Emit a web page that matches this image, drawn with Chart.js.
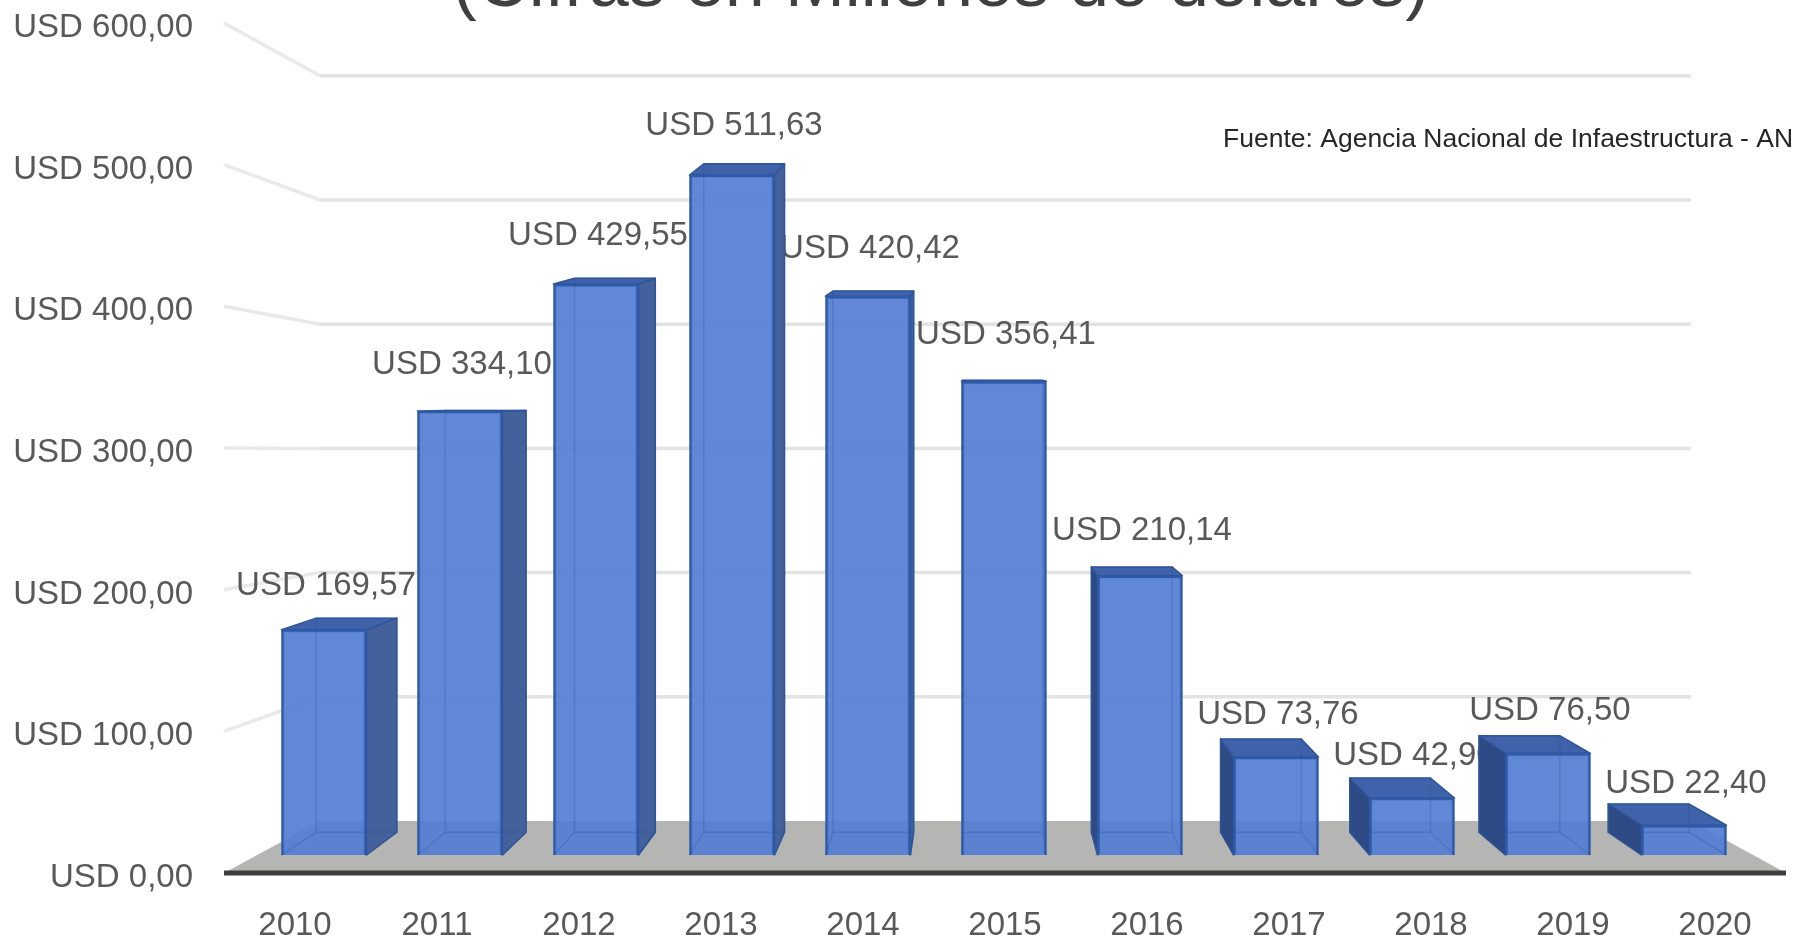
<!DOCTYPE html>
<html>
<head>
<meta charset="utf-8">
<title>Cifras en Millones de dólares</title>
<script src="https://cdn.jsdelivr.net/npm/chart.js@4"></script>
<style>
  html, body { margin: 0; padding: 0; background: #fff; overflow: hidden; }
  canvas { display: block; filter: blur(0.6px); }
</style>
</head>
<body>
<canvas id="chart" width="1793" height="935"></canvas>
<script>
const years = ['2010', '2011', '2012', '2013', '2014', '2015', '2016', '2017', '2018', '2019', '2020'];
const investment = [169.57, 334.10, 429.55, 511.63, 420.42, 356.41, 210.14, 73.76, 42.90, 76.50, 22.40];
const valueTicks = [0, 100, 200, 300, 400, 500, 600];
const titleText = '(Cifras en Millones de dólares)';
const sourceText = 'Fuente: Agencia Nacional de Infaestructura - AN';

const fontFamily = '"Liberation Sans", Arial, sans-serif';
const textGrey = '#595959';

const usd = v => 'USD ' + v.toFixed(2).replace('.', ',');

// the excel 3d look: every corner of a bar gets pulled towards the middle of the picture
const depth = 0.05, vanishX = 975, vanishY = 400;
const toBack = (x, y) => [x + depth * (vanishX - x), y - depth * Math.abs(y - vanishY)];

function quad(ctx, pts, fill) {
  ctx.beginPath();
  pts.forEach((p, i) => i ? ctx.lineTo(p[0], p[1]) : ctx.moveTo(p[0], p[1]));
  ctx.closePath();
  ctx.fillStyle = fill;
  ctx.fill();
  ctx.lineWidth = 1.5;
  ctx.lineJoin = 'round';
  ctx.strokeStyle = '#2f5597';
  ctx.stroke();
}

const stage = {
  id: 'stage',
  beforeDatasetsDraw(chart) {
    const { ctx, chartArea: area, scales } = chart;
    const backLeft = 320, backRight = 1691;
    const front0 = scales.y.getPixelForValue(0), back0 = scales.yBack.getPixelForValue(0);
    ctx.save();

    // floor
    ctx.beginPath();
    ctx.moveTo(area.left, front0);
    ctx.lineTo(backLeft, back0);
    ctx.lineTo(backRight, back0);
    ctx.lineTo(area.right, front0);
    ctx.closePath();
    ctx.fillStyle = '#b5b5b3';
    ctx.fill();

    // grid, running along the side wall and then the back wall
    ctx.lineWidth = 3.5;
    valueTicks.slice(1).forEach(v => {
      const yF = scales.y.getPixelForValue(v), yB = scales.yBack.getPixelForValue(v);
      ctx.strokeStyle = '#e9e9e9';
      ctx.beginPath();
      ctx.moveTo(area.left, yF);
      ctx.lineTo(backLeft, yB);
      ctx.stroke();
      ctx.strokeStyle = '#e3e3e3';
      ctx.beginPath();
      ctx.moveTo(backLeft, yB);
      ctx.lineTo(backRight, yB);
      ctx.stroke();
    });

    // axis line
    ctx.strokeStyle = '#3f3f3f';
    ctx.lineWidth = 5;
    ctx.beginPath();
    ctx.moveTo(area.left, front0);
    ctx.lineTo(area.right, front0);
    ctx.stroke();

    // title is cut by the top of the picture
    ctx.fillStyle = '#404040';
    ctx.font = '72px ' + fontFamily;
    ctx.textAlign = 'center';
    ctx.textBaseline = 'alphabetic';
    ctx.fillText(titleText, 941, 6);

    ctx.fillStyle = '#262626';
    ctx.font = '26.5px ' + fontFamily;
    ctx.textAlign = 'left';
    ctx.fillText(sourceText, 1223, 147);

    // value labels sit under the bars, some get covered by the neighbour
    const bars = chart.getDatasetMeta(0).data;
    ctx.fillStyle = textGrey;
    ctx.font = '33px ' + fontFamily;
    ctx.textAlign = 'center';
    ctx.textBaseline = 'middle';
    bars.forEach((bar, i) => ctx.fillText(usd(investment[i]), bar.x + 2, bar.y - 41 - 0.012 * (bar.base - bar.y)));

    bars.forEach(bar => {
      const l = bar.x - bar.width / 2, r = bar.x + bar.width / 2;
      const tl = toBack(l, bar.y), tr = toBack(r, bar.y);
      const bl = toBack(l, bar.base), br = toBack(r, bar.base);
      if (tr[0] > r) quad(ctx, [[r, bar.y], tr, br, [r, bar.base]], '#44619b');
      if (tl[0] < l) quad(ctx, [[l, bar.y], tl, bl, [l, bar.base]], '#2d4a85');
      quad(ctx, [[l, bar.y], [r, bar.y], tr, tl], '#3f62ab');
    });
    ctx.restore();
  },
  afterDatasetsDraw(chart) {
    // back edges show through the glassy front face
    const { ctx } = chart;
    ctx.save();
    ctx.strokeStyle = 'rgba(47,85,151,0.3)';
    ctx.lineWidth = 1.5;
    chart.getDatasetMeta(0).data.forEach(bar => {
      const l = bar.x - bar.width / 2, r = bar.x + bar.width / 2;
      const tl = toBack(l, bar.y), br = toBack(r, bar.base);
      ctx.strokeRect(tl[0], tl[1], br[0] - tl[0], br[1] - tl[1]);
      ctx.beginPath();
      ctx.moveTo(l, bar.base);
      ctx.lineTo(tl[0], br[1]);
      ctx.moveTo(r, bar.base);
      ctx.lineTo(br[0], br[1]);
      ctx.stroke();
    });
    ctx.restore();
  }
};

new Chart(document.getElementById('chart'), {
  type: 'bar',
  plugins: [stage],
  data: {
    labels: years,
    datasets: [{
      label: 'Inversión',
      xAxisID: 'xBar',
      yAxisID: 'yBar',
      data: investment.map((v, i) => ({ x: i, y: v })),
      backgroundColor: 'rgba(82,126,212,0.92)',
      borderColor: '#2f5aa8',
      borderWidth: 2.5,
      barThickness: 85
    }]
  },
  options: {
    responsive: false,
    animation: false,
    layout: { autoPadding: false, padding: { top: 23, right: 7, left: 0, bottom: 0 } },
    plugins: { legend: { display: false }, title: { display: false }, tooltip: { enabled: false } },
    scales: {
      // front plane, this is what the tick labels belong to
      x: {
        type: 'category',
        grid: { display: false },
        border: { display: false },
        ticks: { color: textGrey, font: { family: fontFamily, size: 33 }, padding: 25, maxRotation: 0, autoSkip: false },
        afterFit(scale) { scale.height = 62; }
      },
      y: {
        min: 0,
        max: 600,
        grid: { display: false },
        border: { display: false },
        afterBuildTicks(scale) { scale.ticks = valueTicks.map(value => ({ value })); },
        ticks: { color: textGrey, font: { family: fontFamily, size: 33 }, padding: 23, labelOffset: 5, callback: v => usd(v) },
        afterFit(scale) { scale.width = 224; scale.paddingTop = 0; scale.paddingBottom = 0; }
      },
      // bars and back wall stand further back so they have their own hidden scales
      xBar: { type: 'linear', display: false, offset: false, min: -0.735, max: 10.75 },
      yBar: { display: false, min: -13.54, max: 626 },
      yBack: { display: false, min: -41.87, max: 642.5 }
    }
  }
});
</script>
</body>
</html>
